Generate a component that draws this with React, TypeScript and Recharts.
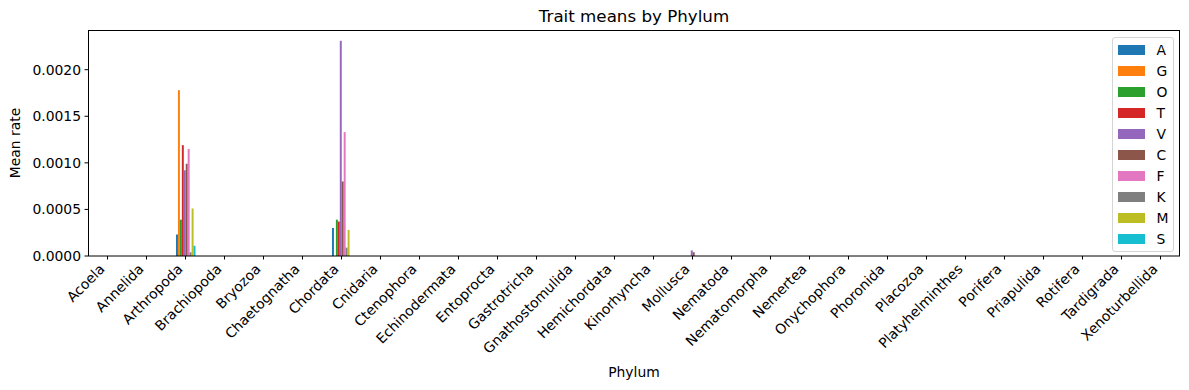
import React from 'react';
import { BarChart, Bar, XAxis, YAxis } from 'recharts';

const phyla = [
  'Acoela', 'Annelida', 'Arthropoda', 'Brachiopoda', 'Bryozoa', 'Chaetognatha', 'Chordata',
  'Cnidaria', 'Ctenophora', 'Echinodermata', 'Entoprocta', 'Gastrotricha', 'Gnathostomulida',
  'Hemichordata', 'Kinorhyncha', 'Mollusca', 'Nematoda', 'Nematomorpha', 'Nemertea',
  'Onychophora', 'Phoronida', 'Placozoa', 'Platyhelminthes', 'Porifera', 'Priapulida',
  'Rotifera', 'Tardigrada', 'Xenoturbellida',
];

const traits = ['A', 'G', 'O', 'T', 'V', 'C', 'F', 'K', 'M', 'S'];
const traitColors = ['#1f77b4', '#ff7f0e', '#2ca02c', '#d62728', '#9467bd', '#8c564b', '#e377c2', '#7f7f7f', '#bcbd22', '#17becf'];

// mean rate per trait (A..S); every other phylum reads as 0 for all traits
const arthropoda = [0.00023, 0.00178, 0.00039, 0.00119, 0.00092, 0.00099, 0.00115, 0.00004, 0.00051, 0.00011];
const chordata = [0.0003, 0, 0.00039, 0.00037, 0.00231, 0.0008, 0.00133, 0.00009, 0.00028, 0];
const mollusca = [0, 0, 0, 0, 0.00006, 0.00004, 0, 0, 0, 0];

const yTicks = [0, 0.0005, 0.001, 0.0015, 0.002];

const measured: Record<string, number[]> = {
  Arthropoda: arthropoda,
  Chordata: chordata,
  Mollusca: mollusca,
};

const rows = phyla.map((name) => {
  const row: Record<string, string | number> = { phylum: name };
  traits.forEach((t, i) => {
    row[t] = measured[name] ? measured[name][i] : 0;
  });
  return row;
});

const FONT = 'DejaVu Sans, sans-serif';

const PhylumTick = (props: any) => {
  const { x, y, payload } = props;
  const px = x - 2;
  const py = y + 7;
  return (
    <text x={px} y={py} transform={`rotate(-45, ${px}, ${py})`} textAnchor="end"
      fontSize={13.9} fill="#000" fontFamily={FONT}>
      {payload.value}
    </text>
  );
};

export default function App() {
  return (
    <div style={{ position: 'relative', width: 1189, height: 390, fontFamily: FONT }}>
      <style>{'body { margin: 0; }'}</style>
      <BarChart width={1189} height={390} data={rows} margin={{ top: 30, right: 9, left: 0, bottom: 0 }}
        barGap={0} barSize={1.95}>
        <XAxis dataKey="phylum" interval={0} height={134} axisLine={false}
          tickLine={{ stroke: '#000' }} tickSize={3.5} tickMargin={3.5} tick={<PhylumTick />} />
        <YAxis width={88} domain={[0, 0.002426]} ticks={yTicks} allowDataOverflow axisLine={false}
          tickLine={{ stroke: '#000' }} tickSize={3.5} tickMargin={3.5}
          tick={{ fontSize: 13.9, fill: '#000', fontFamily: FONT }}
          tickFormatter={(v: number) => v.toFixed(4)} />
        {traits.map((t, i) => (
          <Bar key={t} dataKey={t} fill={traitColors[i]} isAnimationActive={false} />
        ))}
      </BarChart>

      <svg width={1189} height={390} style={{ position: 'absolute', left: 0, top: 0, pointerEvents: 'none' }}>
        <rect x={88.5} y={30.5} width={1091} height={225.5} fill="none" stroke="#000" strokeWidth={1} />
        <text x={634} y={22} textAnchor="middle" fontSize={16.7} fontFamily={FONT} fill="#000">
          Trait means by Phylum
        </text>
        <text x={634} y={377} textAnchor="middle" fontSize={13.9} fontFamily={FONT} fill="#000">Phylum</text>
        <text x={20} y={143} transform="rotate(-90, 20, 143)" textAnchor="middle" fontSize={13.9}
          fontFamily={FONT} fill="#000">Mean rate</text>
      </svg>

      <div style={{
        position: 'absolute', left: 1111.5, top: 37, width: 60, height: 213,
        border: '1px solid #d5d5d5', borderRadius: 3, background: 'rgba(255,255,255,0.8)',
      }}>
        {traits.map((t, i) => (
          <div key={t} style={{ position: 'absolute', left: 5, top: 6 + i * 21, height: 12, display: 'flex', alignItems: 'center' }}>
            <div style={{ width: 27, height: 10, background: traitColors[i] }} />
            <span style={{ marginLeft: 12, fontSize: 13.9, color: '#000', lineHeight: '12px' }}>{t}</span>
          </div>
        ))}
      </div>
    </div>
  );
}
